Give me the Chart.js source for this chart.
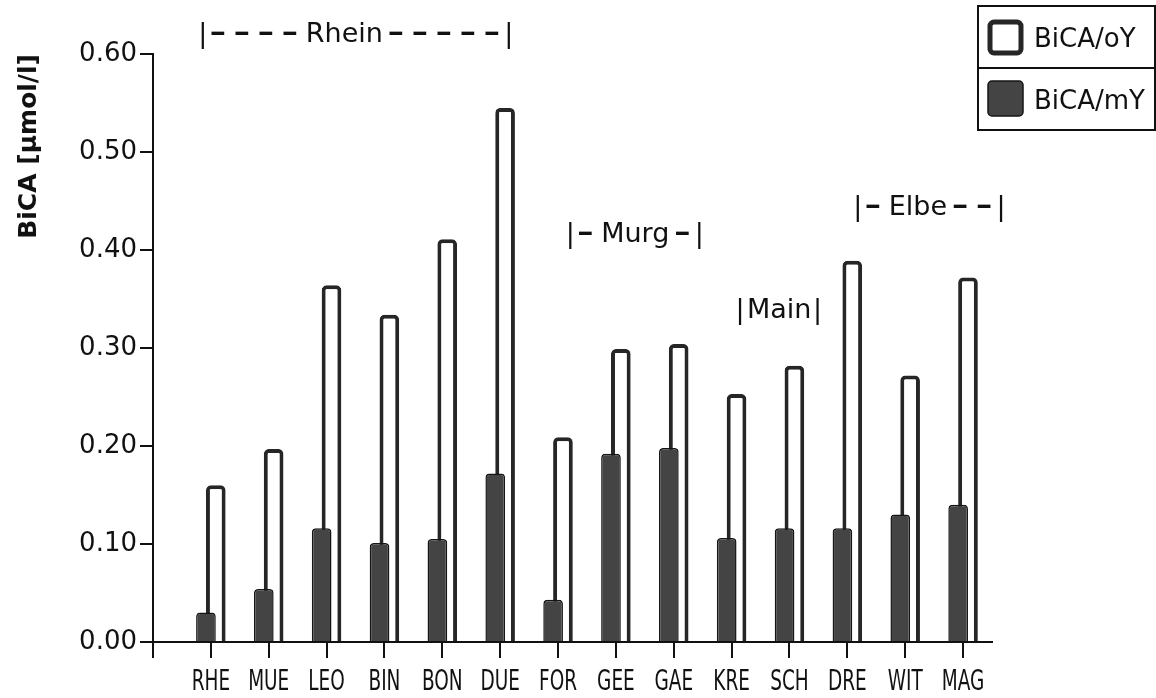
<!DOCTYPE html>
<html>
<head>
<meta charset="utf-8">
<script src="https://cdn.jsdelivr.net/npm/chart.js@4.4.1/dist/chart.umd.min.js"></script>
<style>
  html, body { margin: 0; padding: 0; background: #fff; }
  canvas { display: block; }
</style>
</head>
<body>
<canvas id="chart" width="1156" height="698"></canvas>
<script>
// Sampling stations along the rivers
const stations = ['RHE', 'MUE', 'LEO', 'BIN', 'BON', 'DUE', 'FOR', 'GEE', 'GAE', 'KRE', 'SCH', 'DRE', 'WIT', 'MAG'];

// BiCA concentrations in µmol/l
const bicaOY = [0.160, 0.197, 0.364, 0.334, 0.411, 0.545, 0.209, 0.299, 0.304, 0.253, 0.282, 0.389, 0.272, 0.372];
const bicaMY = [0.030, 0.054, 0.116, 0.101, 0.105, 0.172, 0.043, 0.192, 0.198, 0.106, 0.116, 0.116, 0.130, 0.140];

// Value axis ticks
const yTickValues = [0.0, 0.1, 0.2, 0.3, 0.4, 0.5, 0.6];

// River names written above their station groups
const rivers = ['Rhein', 'Murg', 'Main', 'Elbe'];

// Where each river bracket sits (x in station units, y in axis units) and how many dashes flank the name
const riverBrackets = [
  { at: -0.14, y: 0.622, left: 4, right: 5 },
  { at: 6.21, y: 0.418, left: 1, right: 1 },
  { at: 9.145, y: 0.341, left: 0, right: 0 },
  { at: 11.18, y: 0.446, left: 1, right: 2 }
];

const INK = '#111';
const FILL_DARK = '#444';

const decorations = {
  id: 'decorations',
  afterDraw(chart) {
    const { ctx, scales: { x, y } } = chart;
    ctx.save();
    ctx.fillStyle = INK;

    // Station names below the tick marks, in a narrow lettering
    ctx.font = '28px "DejaVu Sans"';
    ctx.textAlign = 'center';
    ctx.textBaseline = 'alphabetic';
    stations.forEach((name, i) => {
      ctx.save();
      ctx.translate(x.getPixelForValue(i), x.top + 48);
      ctx.scale(0.66, 1);
      ctx.fillText(name, 0, 0);
      ctx.restore();
    });

    // River brackets: |--Name--|
    const nameFont = '27px "DejaVu Sans"';
    const dashFont = 'bold 27px "DejaVu Sans"';
    const pitch = 24;
    riverBrackets.forEach((b, k) => {
      const base = y.getPixelForValue(b.y) + 10;
      let px = x.getPixelForValue(b.at);
      ctx.font = nameFont;
      ctx.textAlign = 'center';
      ctx.fillText('|', px, base);
      ctx.textAlign = 'left';
      px += 5;
      const dash = () => {
        ctx.save();
        ctx.font = dashFont;
        ctx.translate(px + 2, base);
        ctx.scale(1.2, 1);
        ctx.fillText('\u2013', 0, -1);
        ctx.restore();
        px += pitch;
      };
      for (let i = 0; i < b.left; i++) dash();
      px += 2;
      ctx.font = nameFont;
      ctx.fillText(rivers[k], px, base);
      px += ctx.measureText(rivers[k]).width + 3;
      for (let i = 0; i < b.right; i++) dash();
      ctx.font = nameFont;
      ctx.textAlign = 'center';
      ctx.fillText('|', px + 3, base);
    });

    // Legend box
    const lx = 978, ly = 6, lw = 177, rowH = 62;
    const order = [1, 0];
    ctx.strokeStyle = INK;
    ctx.lineWidth = 2;
    ctx.strokeRect(lx, ly, lw, rowH * 2);
    ctx.beginPath();
    ctx.moveTo(lx, ly + rowH);
    ctx.lineTo(lx + lw, ly + rowH);
    ctx.stroke();
    ctx.font = '26px "DejaVu Sans"';
    ctx.textAlign = 'left';
    ctx.textBaseline = 'alphabetic';
    order.forEach((di, r) => {
      const ds = chart.data.datasets[di];
      const top = ly + rowH * r;
      ctx.beginPath();
      if (r === 0) {
        ctx.roundRect(lx + 12, top + 16, 31, 31, 4);
        ctx.fillStyle = '#fff';
        ctx.fill();
        ctx.lineWidth = 5;
        ctx.strokeStyle = ds.borderColor;
        ctx.stroke();
      } else {
        ctx.roundRect(lx + 10, top + 13, 35, 35, 4);
        ctx.fillStyle = ds.backgroundColor;
        ctx.fill();
        ctx.lineWidth = 1.5;
        ctx.strokeStyle = ds.borderColor;
        ctx.stroke();
      }
      ctx.fillStyle = INK;
      ctx.fillText(ds.label, lx + 56, top + 41);
    });
    ctx.restore();
  }
};

new Chart(document.getElementById('chart'), {
  type: 'bar',
  data: {
    datasets: [
      {
        label: 'BiCA/mY',
        data: stations.map((_, i) => ({ x: i, y: bicaMY[i] })),
        backgroundColor: FILL_DARK,
        borderColor: '#151515',
        borderWidth: 1.5,
        borderRadius: 4,
        categoryPercentage: 0.34,
        barPercentage: 2.0
      },
      {
        label: 'BiCA/oY',
        data: stations.map((_, i) => ({ x: i, y: bicaOY[i] })),
        backgroundColor: '#fff',
        borderColor: '#262626',
        borderWidth: 4,
        borderRadius: 5,
        categoryPercentage: 0.34,
        barPercentage: 2.0
      }
    ]
  },
  options: {
    responsive: false,
    animation: false,
    devicePixelRatio: 1,
    layout: { padding: { left: 0, top: 54, right: 164, bottom: 0 } },
    plugins: {
      legend: { display: false },
      tooltip: { enabled: false }
    },
    scales: {
      x: {
        type: 'linear',
        position: 'bottom',
        min: -1,
        max: 13.5,
        bounds: 'data',
        offset: false,
        afterFit(scale) { scale.height = 56; },
        grid: {
          display: true,
          offset: false,
          drawOnChartArea: false,
          drawTicks: true,
          tickLength: 16,
          color: INK,
          lineWidth: 2
        },
        border: { display: true, color: INK, width: 2 },
        ticks: { display: false, stepSize: 1, includeBounds: false, autoSkip: false }
      },
      y: {
        min: 0,
        max: 0.6,
        afterFit(scale) { scale.width = 153; },
        afterBuildTicks(scale) { scale.ticks = yTickValues.map(v => ({ value: v })); },
        grid: {
          display: true,
          drawOnChartArea: false,
          drawTicks: true,
          tickLength: 13,
          color: INK,
          lineWidth: 2
        },
        border: { display: true, color: INK, width: 2 },
        ticks: {
          color: INK,
          padding: 3,
          font: { family: '"DejaVu Sans"', size: 26 },
          callback: v => Number(v).toFixed(2)
        },
        title: {
          display: true,
          text: 'BiCA [\u00b5mol/l]',
          align: 'end',
          color: INK,
          padding: { top: 14, bottom: 0 },
          font: { family: '"DejaVu Sans"', size: 25, weight: 'bold' }
        }
      }
    }
  },
  plugins: [decorations]
});
</script>
</body>
</html>
